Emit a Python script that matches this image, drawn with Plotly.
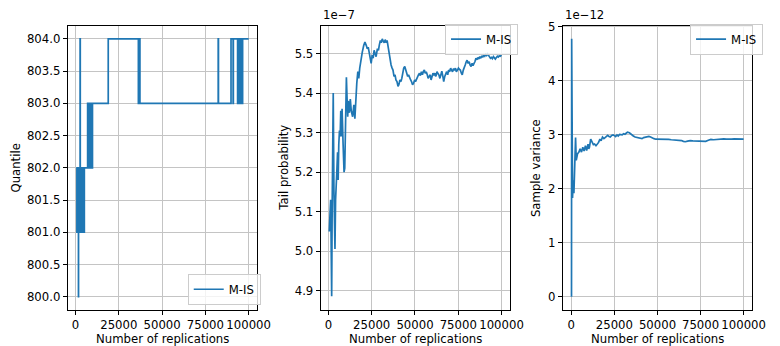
import plotly.graph_objects as go

# ---- running quantile estimate (value changes recorded at these replication counts)
q_reps = [500, 800, 950, 1100, 1250, 1400, 1550, 1650, 1700, 1750, 1900, 2050, 2200,
          2350, 2500, 2650, 2750, 2850, 3000, 3150, 3300, 3450, 3600, 3750, 3900,
          4050, 4200, 4350, 4500, 4650, 4800, 4950, 5100, 7000, 7150, 7300, 7450,
          7600, 8100, 8250, 8400, 8550, 8700, 8900, 9300, 9800, 18900, 36300, 36450,
          36600, 36750, 36900, 37050, 37200, 82400, 82550, 89800, 91000, 91150,
          93600, 93800, 94000, 94200, 94400, 94600, 94800, 95000, 95200, 95400,
          95600, 95800, 96000, 96200, 96400, 96500, 100000]
q_vals = [802, 801, 802, 801, 802, 801, 802, 801, 800, 801, 802, 801, 802,
          801, 802, 804, 802, 801, 802, 801, 802, 801, 802, 801, 802,
          801, 802, 801, 802, 801, 802, 801, 802, 803, 802, 803, 802,
          803, 802, 803, 802, 803, 802, 803, 802, 803, 804, 803, 804,
          803, 804, 803, 804, 803, 804, 803, 804, 803, 804,
          803, 804, 803, 804, 803, 804, 803, 804, 803, 804,
          803, 804, 803, 804, 803, 804, 804]

# ---- running tail probability estimate (units of 1e-7)
tp_reps = [500, 900, 1300, 1500, 1900, 2200, 2500, 2800, 3200, 3800, 4150, 4500,
           4900, 5300, 5650, 6000, 6400, 6800, 7150, 7550, 7900, 8500, 9050, 9450,
           9800, 10400, 10750, 11150, 11500, 12100, 12650, 13200, 14000, 14700,
           15300, 15850, 16400, 17000, 17550, 18100, 18900, 19600, 20400, 21100,
           21900, 22450, 23000, 23600, 24150, 24700, 25300, 25850, 26400, 27000,
           27550, 28300, 28900, 29400, 30000, 30550, 31100, 31700, 32250, 32800,
           33400, 33900, 34500, 35100, 35600, 36200, 36800, 37300, 37900, 38500,
           39000, 39600, 40200, 40700, 41300, 41900, 42400, 43000, 43500, 44100,
           44700, 45200, 45800, 46300, 46900, 47500, 48000, 48600, 49200, 49800,
           50300, 50900, 51400, 52000, 52600, 53100, 53700, 54300, 54800, 55400,
           55900, 56500, 57100, 57600, 58200, 58800, 59300, 59900, 60400, 61000,
           61500, 62100, 62700, 63200, 63800, 64400, 64900, 65500, 66100, 66600,
           67200, 67800, 68300, 68900, 69400, 70000, 70600, 71100, 71700, 72300,
           72800, 73400, 73900, 74500, 75100, 75600, 76200, 76800, 77300, 77900,
           78500, 79000, 79600, 80100, 80700, 81300, 81800, 82400, 83000, 83500,
           84100, 84600, 85200, 85800, 86300, 86900, 87400, 88000, 88600, 89100,
           89700, 90300, 90800, 91400, 91900, 92500, 93100, 93600, 94200, 94700,
           95300, 95900, 96400, 97000, 97600, 98100, 98700, 99200, 100000]
tp_vals = [5.05, 5.12, 5.13, 5.06, 4.886, 5.12, 5.235, 5.40, 5.155, 5.006, 5.13, 5.155,
           5.205, 5.25, 5.18, 5.27, 5.305, 5.29, 5.355, 5.29, 5.36, 5.27, 5.20, 5.21,
           5.34, 5.44, 5.39, 5.34, 5.38, 5.35, 5.385, 5.355, 5.34, 5.37,
           5.335, 5.396, 5.425, 5.454, 5.437, 5.463, 5.488, 5.504, 5.52, 5.529,
           5.52, 5.512, 5.516, 5.504, 5.492, 5.475, 5.496, 5.488, 5.508, 5.496,
           5.492, 5.512, 5.508, 5.521, 5.533, 5.527, 5.537, 5.531, 5.527, 5.535,
           5.527, 5.533, 5.516, 5.496, 5.483, 5.471, 5.463, 5.458, 5.442, 5.446,
           5.433, 5.429, 5.417, 5.421, 5.433, 5.429, 5.437, 5.454, 5.463, 5.467,
           5.458, 5.454, 5.442, 5.446, 5.437, 5.433, 5.429, 5.421, 5.425, 5.433,
           5.429, 5.437, 5.442, 5.446, 5.450, 5.444, 5.454, 5.446, 5.454, 5.458,
           5.450, 5.454, 5.446, 5.437, 5.442, 5.446, 5.433, 5.442, 5.450, 5.446,
           5.450, 5.442, 5.454, 5.450, 5.446, 5.437, 5.443, 5.455, 5.442, 5.429,
           5.442, 5.450, 5.454, 5.446, 5.458, 5.454, 5.463, 5.458, 5.454, 5.462,
           5.457, 5.463, 5.454, 5.458, 5.463, 5.460, 5.458, 5.450, 5.446, 5.458,
           5.463, 5.471, 5.479, 5.483, 5.475, 5.479, 5.471, 5.467, 5.475, 5.469,
           5.475, 5.479, 5.488, 5.484, 5.490, 5.486, 5.492, 5.488, 5.494, 5.490,
           5.496, 5.493, 5.498, 5.495, 5.499, 5.496, 5.492, 5.488, 5.490, 5.487,
           5.492, 5.488, 5.486, 5.490, 5.493, 5.491, 5.494, 5.493, 5.496]

# ---- running sample variance (units of 1e-12)
sv_reps = [100, 200, 700, 1100, 1500, 1900, 2460, 2850, 3600, 4400, 5100, 5900,
           6660, 7400, 8200, 8900, 9700, 10100, 10500, 11230, 12000, 12800, 13500,
           14300, 15100, 15800, 16600, 17300, 18090, 18900, 19600, 20400, 21100,
           21900, 22600, 23400, 24200, 24900, 25700, 26500, 27200, 28000, 28800,
           29500, 30300, 31100, 31800, 32600, 33700, 34300, 35000, 36000, 37000,
           38000, 39000, 40000, 41000, 42000, 43000, 44000, 45000, 46000, 47000,
           48000, 49000, 50000, 51000, 52000, 53500, 55000, 56500, 58000, 59500,
           61000, 62500, 64000, 65000, 66100, 67500, 69000, 70500, 72000, 73500,
           75000, 76500, 78000, 79500, 81000, 82500, 84000, 85500, 87000, 88500,
           90000, 91500, 93000, 94500, 96000, 97500, 99000, 100000]
sv_vals = [0.0, 4.78, 1.83, 2.16, 1.92, 2.59, 2.95, 2.53, 2.65, 2.68, 2.74, 2.68,
           2.77, 2.70, 2.80, 2.71, 2.83, 2.74, 2.77, 2.92, 2.86, 2.82, 2.83,
           2.80, 2.83, 2.86, 2.92, 2.89, 2.96, 2.93, 2.95, 2.97, 2.99,
           2.97, 2.96, 2.99, 3.00, 2.99, 2.97, 3.00, 2.98, 3.01, 3.00,
           3.00, 3.02, 3.01, 3.03, 3.05, 3.04, 3.02, 3.00, 2.98, 2.96,
           2.95, 2.94, 2.94, 2.93, 2.95, 2.96, 2.96, 2.97, 2.96, 2.94,
           2.93, 2.92, 2.92, 2.925, 2.92, 2.915, 2.92, 2.915, 2.91, 2.905,
           2.91, 2.905, 2.895, 2.88, 2.873, 2.885, 2.895, 2.89, 2.89, 2.89,
           2.89, 2.885, 2.88, 2.90, 2.915, 2.91, 2.915, 2.915, 2.92, 2.925,
           2.92, 2.915, 2.92, 2.925, 2.92, 2.92, 2.918, 2.92]

x_ticks = [0, 25000, 50000, 75000, 100000]
q_ticks = [800.0, 800.5, 801.0, 801.5, 802.0, 802.5, 803.0, 803.5, 804.0]
tp_ticks = [4.9, 5.0, 5.1, 5.2, 5.3, 5.4, 5.5]
sv_ticks = [0, 1, 2, 3, 4, 5]

W, H = 780, 346
BLUE = "#1f77b4"
FONT = "DejaVu Sans"
FS = 11.7

def px_x(v):
    return v / W

def px_y(v):
    return (H - v) / H

y_dom = [px_y(309), px_y(20.3)]
x_doms = [[px_x(69), px_x(262)], [px_x(326.5), px_x(519.5)], [px_x(573), px_x(766)]]

fig = go.Figure()
fig.add_trace(go.Scatter(x=q_reps, y=q_vals, mode="lines", name="M-IS",
                         line=dict(color=BLUE, width=1.7, shape="hv"),
                         xaxis="x", yaxis="y", legend="legend", showlegend=True))
fig.add_trace(go.Scatter(x=tp_reps, y=tp_vals, mode="lines", name="M-IS",
                         line=dict(color=BLUE, width=1.7),
                         xaxis="x2", yaxis="y2", legend="legend2", showlegend=True))
fig.add_trace(go.Scatter(x=sv_reps, y=sv_vals, mode="lines", name="M-IS",
                         line=dict(color=BLUE, width=1.7),
                         xaxis="x3", yaxis="y3", legend="legend3", showlegend=True))

axis_common = dict(showline=True, mirror=True, linecolor="black", linewidth=1,
                   ticks="outside", ticklen=4, tickwidth=1, tickcolor="black",
                   showgrid=True, gridcolor="#c4c4c4", gridwidth=1, zeroline=False,
                   tickfont=dict(family=FONT, size=FS, color="black"))

x_ranges = [[-4475, 104975], [-4475, 104975], [-5000, 105000]]
y_specs = [([799.8, 804.2], q_ticks, ".1f"),
           ([4.8524, 5.5696], tp_ticks, ".1f"),
           ([-0.239, 5.019], sv_ticks, "d")]

layout = dict(width=W, height=H, margin=dict(l=0, r=0, t=0, b=0),
              paper_bgcolor="white", plot_bgcolor="white", showlegend=True,
              font=dict(family=FONT, size=FS, color="black"))
for i in range(3):
    xs = "xaxis" if i == 0 else f"xaxis{i + 1}"
    ys = "yaxis" if i == 0 else f"yaxis{i + 1}"
    anchor_y = "y" if i == 0 else f"y{i + 1}"
    anchor_x = "x" if i == 0 else f"x{i + 1}"
    layout[xs] = dict(axis_common, domain=x_doms[i], range=x_ranges[i],
                      tickvals=x_ticks, tickformat="d", anchor=anchor_y)
    yr, yt, yf = y_specs[i]
    layout[ys] = dict(axis_common, domain=y_dom, range=yr, tickvals=yt,
                      tickformat=yf, anchor=anchor_x)

legend_common = dict(bgcolor="rgba(255,255,255,0.8)", bordercolor="#cccccc",
                     borderwidth=1, font=dict(family=FONT, size=FS, color="black"),
                     xref="paper", yref="paper", itemwidth=30)
layout["legend"] = dict(legend_common, x=px_x(265.5), y=px_y(304),
                        xanchor="right", yanchor="bottom")
layout["legend2"] = dict(legend_common, x=px_x(527.5), y=px_y(18),
                         xanchor="right", yanchor="top")
layout["legend3"] = dict(legend_common, x=px_x(777), y=px_y(18),
                         xanchor="right", yanchor="top")
fig.update_layout(**layout)

ann_font = dict(family=FONT, size=FS, color="black")
# offset (scale) labels above the axes
fig.add_annotation(text="1e\u22127", x=px_x(327), y=px_y(9), xref="paper", yref="paper",
                   xanchor="left", yanchor="middle", showarrow=False, font=ann_font)
fig.add_annotation(text="1e\u221212", x=px_x(573), y=px_y(9), xref="paper", yref="paper",
                   xanchor="left", yanchor="middle", showarrow=False, font=ann_font)

# axis titles
for cx in [165.5, 423, 669.5]:
    fig.add_annotation(text="Number of replications", x=px_x(cx), y=px_y(339),
                       xref="paper", yref="paper", xanchor="center", yanchor="middle",
                       showarrow=False, font=ann_font)
for cx, label in [(16, "Quantile"), (289, "Tail probability"), (546, "Sample variance")]:
    fig.add_annotation(text=label, x=px_x(cx), y=px_y(164.7), xref="paper", yref="paper",
                       xanchor="center", yanchor="middle", textangle=-90,
                       showarrow=False, font=ann_font)

fig.write_html("out.html")
